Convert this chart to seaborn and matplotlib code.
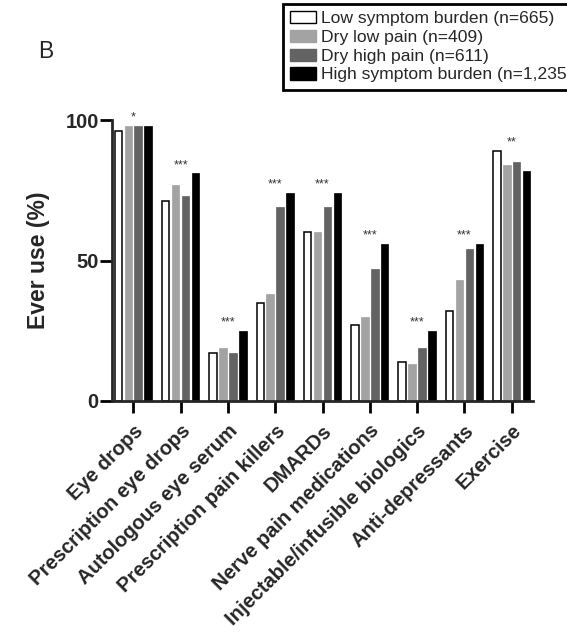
import matplotlib
matplotlib.use("Agg")
import matplotlib.pyplot as plt
from matplotlib.patches import Patch
import seaborn as sns
import pandas as pd

sns.set_style("ticks")
plt.rcParams["font.family"] = ["Liberation Sans", "DejaVu Sans"]

treatments = [
    "Eye drops", "Prescription eye drops", "Autologous eye serum",
    "Prescription pain killers", "DMARDs", "Nerve pain medications",
    "Injectable/infusible biologics", "Anti-depressants", "Exercise",
]
groups = [
    "Low symptom burden (n=665)",
    "Dry low pain (n=409)",
    "Dry high pain (n=611)",
    "High symptom burden (n=1,235)",
]
low_burden = [96, 71, 17, 35, 60, 27, 14, 32, 89]
dry_low_pain = [98, 77, 19, 38, 60, 30, 13, 43, 84]
dry_high_pain = [98, 73, 17, 69, 69, 47, 19, 54, 85]
high_burden = [98, 81, 25, 74, 74, 56, 25, 56, 82]
significance = ["*", "***", "***", "***", "***", "***", "***", "***", "**"]
colors = ["#ffffff", "#a3a3a3", "#636363", "#000000"]

series = [low_burden, dry_low_pain, dry_high_pain, high_burden]
rows = []
for g, vals in zip(groups, series):
    for t, v in zip(treatments, vals):
        rows.append({"treatment": t, "group": g, "pct": v})
df = pd.DataFrame(rows)

fig = plt.figure(figsize=(5.67, 6.39), dpi=100)
W, H = 567, 639
ax = fig.add_axes([112 / W, 1 - 401 / H, (533 - 112) / W, (401 - 120) / H])

sns.barplot(
    data=df, x="treatment", y="pct", hue="group",
    order=treatments, hue_order=groups, palette=colors,
    width=0.84, gap=0.24, saturation=1, errorbar=None,
    legend=False, ax=ax,
)

# outline the white bars, keep the filled bars edge-free
for cont, c in zip(ax.containers, colors):
    for bar in cont:
        if c == "#ffffff":
            bar.set_edgecolor("black")
            bar.set_linewidth(1.1)
        else:
            bar.set_edgecolor(c)
            bar.set_linewidth(0.5)

# significance markers above each group
for i, (mark, *vals) in enumerate(zip(significance, *series)):
    ax.text(i, max(vals) + 0.8, mark, ha="center", va="bottom",
            fontsize=9, color="#333333")

ax.set_xlim(-0.45, len(treatments) - 0.55)
ax.set_ylim(0, 100)
ax.set_yticks([0, 50, 100])
ax.set_ylabel("Ever use (%)", fontsize=16.5, fontweight="bold")
ax.yaxis.set_label_coords(-0.147, 0.5)
ax.set_xlabel("")

sns.despine(ax=ax)
for side in ["left", "bottom"]:
    ax.spines[side].set_linewidth(2)
ax.tick_params(axis="both", width=2, length=8.5, color="black")
ax.tick_params(axis="y", labelsize=14.5, pad=1)
ax.tick_params(axis="x", pad=6)
for lab in ax.get_yticklabels():
    lab.set_fontweight("bold")
ax.set_xticks(range(len(treatments)))
ax.set_xticklabels(treatments, rotation=45, ha="right",
                   rotation_mode="anchor", fontsize=14.5, fontweight="bold")

handles = [
    Patch(facecolor=c, edgecolor="black" if c == "#ffffff" else c, linewidth=1)
    for c in colors
]
leg = fig.legend(
    handles, groups, loc="upper left",
    bbox_to_anchor=(283 / W, 1 - 4 / H), frameon=True, fancybox=False,
    edgecolor="black", framealpha=1, fontsize=12.6,
    handlelength=1.5, handleheight=0.7, handletextpad=0.25,
    labelspacing=0.2, borderpad=0.4, borderaxespad=0,
)
leg.get_frame().set_linewidth(2)

fig.text(38 / W, 1 - 58 / H, "B", fontsize=16.5, va="baseline")

fig.savefig("out.png", dpi=100)
